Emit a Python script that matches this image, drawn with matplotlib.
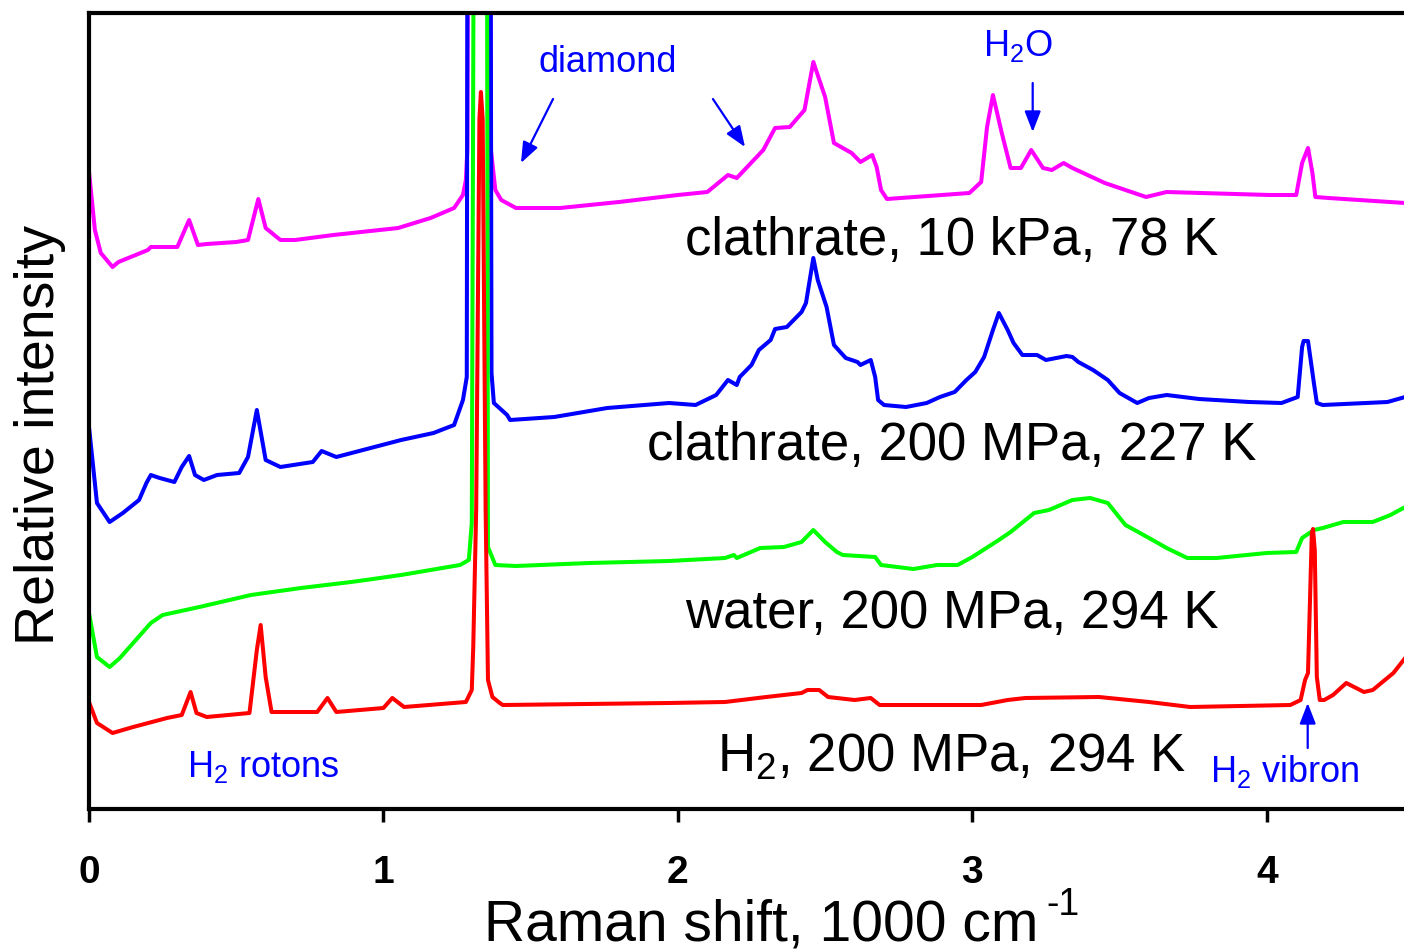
import matplotlib
matplotlib.use('Agg')
import matplotlib.pyplot as plt

plt.rcParams['font.family'] = ['Liberation Sans', 'DejaVu Sans']
plt.rcParams['mathtext.default'] = 'regular'

# Raman shift in 1000 cm^-1, intensity in arbitrary (offset) units
x_clath78 = [0.0, 0.02, 0.04, 0.08, 0.10, 0.20, 0.21, 0.30, 0.34, 0.37, 0.40, 0.50, 0.54,
             0.575, 0.60, 0.65, 0.70, 0.83, 1.05, 1.16, 1.24, 1.27, 1.28, 1.285, 1.29, 1.36,
             1.365, 1.38, 1.40, 1.45, 1.60, 1.80, 2.00, 2.10, 2.17, 2.20, 2.29, 2.33, 2.38,
             2.43, 2.46, 2.50, 2.53, 2.59, 2.62, 2.66, 2.675, 2.69, 2.71, 2.99, 3.03, 3.05,
             3.07, 3.10, 3.13, 3.165, 3.20, 3.24, 3.27, 3.31, 3.34, 3.45, 3.59, 3.66, 4.01,
             4.10, 4.12, 4.14, 4.155, 4.165, 4.21, 4.47]
y_clath78 = [6.37, 5.79, 5.56, 5.42, 5.47, 5.59, 5.62, 5.62, 5.89, 5.64, 5.65, 5.67, 5.69,
             6.10, 5.81, 5.69, 5.69, 5.74, 5.81, 5.91, 6.01, 6.14, 6.29, 6.60, 12.0, 12.0,
             6.59, 6.19, 6.09, 6.01, 6.01, 6.07, 6.14, 6.17, 6.34, 6.31, 6.59, 6.81, 6.82,
             6.99, 7.47, 7.12, 6.66, 6.56, 6.47, 6.54, 6.42, 6.19, 6.10, 6.16, 6.27, 6.82,
             7.14, 6.76, 6.41, 6.41, 6.59, 6.41, 6.39, 6.46, 6.41, 6.26, 6.12, 6.17, 6.14,
             6.14, 6.46, 6.61, 6.36, 6.12, 6.11, 6.06]

x_clath227 = [0.0, 0.027, 0.07, 0.115, 0.17, 0.195, 0.21, 0.24, 0.29, 0.315, 0.34, 0.36, 0.39,
              0.435, 0.51, 0.54, 0.57, 0.60, 0.65, 0.76, 0.79, 0.84, 1.06, 1.17, 1.24, 1.27,
              1.283, 1.287, 1.362, 1.367, 1.375, 1.42, 1.43, 1.58, 1.76, 1.97, 2.06, 2.13,
              2.17, 2.20, 2.21, 2.25, 2.275, 2.315, 2.33, 2.37, 2.42, 2.435, 2.46, 2.475,
              2.505, 2.53, 2.57, 2.61, 2.62, 2.655, 2.67, 2.68, 2.70, 2.775, 2.845, 2.89,
              2.94, 2.98, 3.01, 3.04, 3.07, 3.09, 3.12, 3.14, 3.17, 3.22, 3.25, 3.32, 3.34,
              3.36, 3.41, 3.46, 3.50, 3.56, 3.60, 3.66, 3.77, 3.94, 4.05, 4.105, 4.12, 4.125,
              4.14, 4.16, 4.17, 4.19, 4.41, 4.47]
y_clath227 = [3.82, 3.06, 2.87, 2.96, 3.09, 3.26, 3.34, 3.31, 3.27, 3.42, 3.53, 3.34, 3.29,
              3.34, 3.36, 3.52, 3.99, 3.49, 3.42, 3.47, 3.58, 3.52, 3.69, 3.76, 3.84, 4.09,
              4.32, 12.0, 12.0, 4.36, 4.06, 3.94, 3.89, 3.92, 4.01, 4.06, 4.04, 4.14,
              4.29, 4.24, 4.32, 4.44, 4.59, 4.69, 4.80, 4.82, 4.97, 5.06, 5.51, 5.29,
              5.02, 4.64, 4.51, 4.47, 4.44, 4.49, 4.32, 4.09, 4.04, 4.02, 4.06, 4.12,
              4.17, 4.29, 4.37, 4.52, 4.79, 4.96, 4.79, 4.66, 4.54, 4.54, 4.49, 4.53, 4.52,
              4.47, 4.39, 4.29, 4.16, 4.06, 4.11, 4.14, 4.10, 4.07, 4.06, 4.12, 4.62, 4.68,
              4.68, 4.26, 4.06, 4.04, 4.07, 4.12]

x_water = [0.0, 0.027, 0.07, 0.105, 0.15, 0.21, 0.25, 0.375, 0.55, 0.72, 0.89, 0.94, 1.06,
           1.26, 1.29, 1.30, 1.31, 1.35, 1.355, 1.38, 1.45, 1.70, 1.97, 2.16, 2.19, 2.20,
           2.28, 2.36, 2.42, 2.46, 2.50, 2.54, 2.56, 2.67, 2.69, 2.80, 2.88, 2.95, 3.00,
           3.09, 3.13, 3.21, 3.26, 3.34, 3.40, 3.46, 3.52, 3.60, 3.66, 3.73, 3.83, 4.00,
           4.10, 4.12, 4.16, 4.19, 4.26, 4.36, 4.42, 4.47]
y_water = [1.96, 1.52, 1.42, 1.51, 1.66, 1.86, 1.94, 2.02, 2.14, 2.21, 2.27, 2.29, 2.34,
           2.44, 2.49, 2.86, 12.0, 12.0, 2.62, 2.44, 2.43, 2.46, 2.48, 2.51, 2.54, 2.51,
           2.61, 2.62, 2.67, 2.79, 2.67, 2.57, 2.54, 2.52, 2.44, 2.40, 2.44, 2.44, 2.52,
           2.69, 2.77, 2.96, 2.99, 3.09, 3.11, 3.06, 2.84, 2.71, 2.61, 2.51, 2.51, 2.56,
           2.57, 2.71, 2.79, 2.81, 2.87, 2.87, 2.94, 3.02]

x_h2 = [0.0, 0.027, 0.08, 0.15, 0.265, 0.315, 0.345, 0.365, 0.40, 0.545, 0.57, 0.583, 0.60,
        0.62, 0.775, 0.81, 0.84, 1.00, 1.03, 1.07, 1.28, 1.30, 1.305, 1.315, 1.326, 1.331,
        1.337, 1.347, 1.355, 1.37, 1.395, 1.405, 1.97, 2.16, 2.30, 2.42, 2.44, 2.48, 2.51,
        2.60, 2.655, 2.685, 3.03, 3.12, 3.18, 3.43, 3.60, 3.74, 4.08, 4.115, 4.13, 4.14,
        4.153, 4.157, 4.163, 4.17, 4.18, 4.195, 4.225, 4.27, 4.33, 4.36, 4.43, 4.47]
y_h2 = [1.07, 0.86, 0.76, 0.82, 0.91, 0.94, 1.17, 0.96, 0.92, 0.96, 1.59, 1.84, 1.32,
        0.97, 0.97, 1.11, 0.97, 1.01, 1.11, 1.02, 1.07, 1.19, 1.62, 3.00, 6.90, 7.17,
        6.90, 3.00, 1.29, 1.12, 1.06, 1.04, 1.06, 1.07, 1.12, 1.16, 1.19, 1.19, 1.12,
        1.09, 1.11, 1.04, 1.04, 1.09, 1.11, 1.12, 1.07, 1.02, 1.04, 1.09, 1.29, 1.36,
        2.76, 2.80, 2.59, 1.32, 1.09, 1.09, 1.14, 1.26, 1.17, 1.19, 1.36, 1.51]

labels = ['clathrate, 10 kPa, 78 K', 'clathrate, 200 MPa, 227 K',
          'water, 200 MPa, 294 K', 'H$_2$, 200 MPa, 294 K']
label_y = [5.54, 3.49, 1.81, 0.37]
colors = ['#FF00FF', '#0000FF', '#00FF00', '#FF0000']
ann_color = '#0000FF'

fig = plt.figure(figsize=(14.04, 9.5), dpi=100)
ax = fig.add_axes([89 / 1404, 141 / 950, 1325 / 1404, 796 / 950])

series = [(x_clath78, y_clath78), (x_clath227, y_clath227), (x_water, y_water), (x_h2, y_h2)]
for (xs, ys), c in zip(series, colors):
    ax.plot(xs, ys, color=c, lw=2.9, solid_joinstyle='round')

for text, yl in zip(labels, label_y):
    ax.text(2.93, yl, text, ha='center', va='baseline', fontsize=38, color='black')

ax.set_xlim(0, 4.5)
ax.set_ylim(0, 7.96)
ax.set_xticks([0, 1, 2, 3, 4])
ax.set_yticks([])
ax.tick_params(axis='x', direction='out', length=9, width=2.5, pad=24, labelsize=28)
for lab in ax.get_xticklabels():
    lab.set_fontweight('bold')
for sp in ax.spines.values():
    sp.set_linewidth(3)

# annotations
arrow = dict(arrowstyle='-|>,head_length=0.9,head_width=0.35', color=ann_color, lw=1.6,
             shrinkA=0, shrinkB=0, mutation_scale=14)
ax.annotate('', xy=(1.467, 6.46), xytext=(1.576, 7.10), arrowprops=arrow)
ax.annotate('', xy=(2.228, 6.62), xytext=(2.119, 7.10), arrowprops=arrow)
ax.annotate('', xy=(3.205, 6.77), xytext=(3.205, 7.26), arrowprops=arrow)
ax.annotate('', xy=(4.139, 1.06), xytext=(4.139, 0.61), arrowprops=arrow)
ax.text(1.762, 7.37, 'diamond', ha='center', va='baseline', fontsize=26, color=ann_color)
ax.text(3.155, 7.53, 'H$_2$O', ha='center', va='baseline', fontsize=26, color=ann_color)
ax.text(0.591, 0.32, 'H$_2$ rotons', ha='center', va='baseline', fontsize=26, color=ann_color)
ax.text(4.061, 0.27, 'H$_2$ vibron', ha='center', va='baseline', fontsize=26, color=ann_color)

fig.text(1038 / 1404, 10 / 950, 'Raman shift, 1000 cm', ha='right', va='baseline',
         fontsize=41)
fig.text(1046 / 1404, 1 - 915 / 950, '-1', ha='left', va='baseline', fontsize=27)
fig.text(40 / 1404, 1 - 435 / 950, 'Relative intensity', ha='center', va='center',
         rotation=90, fontsize=40)

fig.savefig('out.png', dpi=100)
